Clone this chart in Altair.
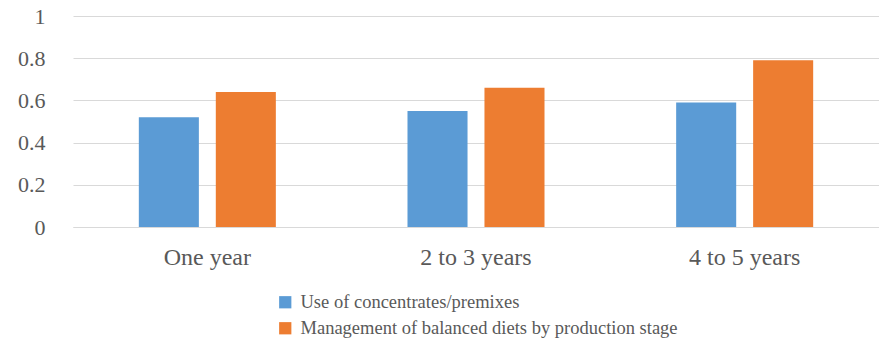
import altair as alt
import pandas as pd

categories = ["One year", "2 to 3 years", "4 to 5 years"]
series = ["Use of concentrates/premixes", "Management of balanced diets by production stage"]
concentrates = [0.52, 0.55, 0.59]
balanced = [0.64, 0.66, 0.79]

rows = []
for c, a, b in zip(categories, concentrates, balanced):
    rows.append({"category": c, "series": series[0], "value": a})
    rows.append({"category": c, "series": series[1], "value": b})
df = pd.DataFrame(rows)

FONT = "Liberation Serif, DejaVu Serif, serif"
GREY = "#595959"

chart = alt.Chart(df).mark_bar().encode(
    x=alt.X("category:N", sort=categories,
            scale=alt.Scale(paddingInner=0.49, paddingOuter=0.245),
            axis=alt.Axis(title=None, labelAngle=0, labelFont=FONT, labelFontSize=24,
                          labelColor=GREY, labelPadding=18, ticks=False,
                          domainColor="#D9D9D9", domainWidth=1)),
    xOffset=alt.XOffset("series:N", sort=series,
                        scale=alt.Scale(paddingInner=0.22, paddingOuter=0)),
    y=alt.Y("value:Q", scale=alt.Scale(domain=[0, 1]),
            axis=alt.Axis(title=None, values=[0, 0.2, 0.4, 0.6, 0.8, 1], labelFont=FONT,
                          labelFontSize=22, labelColor=GREY, labelPadding=28,
                          ticks=False, domain=False, gridColor="#D9D9D9",
                          labelExpr="datum.value")),
    color=alt.Color("series:N", sort=series,
                    scale=alt.Scale(domain=series, range=["#5B9BD5", "#ED7D31"]),
                    legend=alt.Legend(title=None, orient="none", legendX=203, legendY=277,
                                      direction="vertical", symbolType="square",
                                      symbolSize=150, symbolStrokeWidth=0,
                                      labelFont=FONT, labelFontSize=18.5, labelColor=GREY,
                                      labelLimit=0, rowPadding=7, labelOffset=6)),
).properties(
    width=806, height=211,
    autosize=alt.AutoSizeParams(type="none"),
    padding={"left": 73, "top": 16, "right": 0, "bottom": 114},
).configure_view(stroke=None).configure_axis(labelFont=FONT).configure_legend(labelFont=FONT)

chart.save("out.html", embed_options={"renderer": "svg", "actions": False})
